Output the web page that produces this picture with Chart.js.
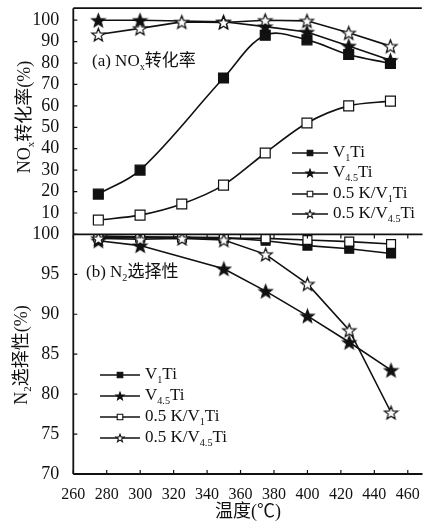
<!DOCTYPE html>
<html>
<head>
<meta charset="utf-8">
<script src="https://cdn.jsdelivr.net/npm/chart.js@4.4.0/dist/chart.umd.min.js"></script>
<style>
  html, body { margin: 0; padding: 0; background: #fff; }
  #wrap { position: relative; width: 430px; height: 523px; overflow: hidden; }
  canvas { position: absolute; left: 0; top: 0; }
</style>
</head>
<body>
<div id="wrap">
  <canvas id="noxChart" width="430" height="523"></canvas>
  <canvas id="selChart" width="430" height="523"></canvas>
</div>
<script>
// temperatures (°C) - the K-doped samples also have a 325 point
const tempsV = [275, 300, 350, 375, 400, 425, 450];
const tempsK = [275, 300, 325, 350, 375, 400, 425, 450];

// (a) NOx conversion (%)
const noxV1Ti = [18.8, 30, 73, 93, 90.8, 84, 79.8];
const noxV45Ti = [100, 100, 99.3, 97, 94.5, 88, 81.3];
const noxKV1Ti = [6.7, 9, 14.2, 23, 38, 52, 60, 62.2];
const noxKV45Ti = [93.3, 96.2, 99.2, 98.9, 100, 99.7, 94.1, 87.9];

// (b) N2 selectivity (%)
const selV1Ti = [99.8, 99.7, 99.6, 99.2, 98.6, 98.2, 97.6];
const selV45Ti = [99.2, 98.6, 95.7, 92.9, 89.8, 86.5, 83.0];
const selKV1Ti = [99.6, 99.6, 99.6, 99.5, 99.5, 99.3, 99.1, 98.8];
const selKV45Ti = [99.5, 99.4, 99.5, 99.3, 97.5, 93.8, 88, 77.7];

const xTicks = [260, 280, 300, 320, 340, 360, 380, 400, 420, 440, 460];
const noxTicks = [10, 20, 30, 40, 50, 60, 70, 80, 90, 100];
const selTicks = [70, 75, 80, 85, 90, 95, 100];

// {..} marks a subscript
const seriesNames = ['V{1}Ti', 'V{4.5}Ti', '0.5 K/V{1}Ti', '0.5 K/V{4.5}Ti'];

const FONT = '"Liberation Serif", "Noto Sans CJK SC", serif';
const INK = '#111';
const AXIS_W = 73.3;   // width given to the y axes so both panels line up
const MID_Y = 234.4;   // border between the two panels
const X_MAX = 468.8;

function starPath(g, cx, cy, R) {
  const r = R * 0.42;
  g.beginPath();
  for (let i = 0; i < 10; i++) {
    const a = -Math.PI / 2 + i * Math.PI / 5;
    const d = i % 2 ? r : R;
    g.lineTo(cx + d * Math.cos(a), cy + d * Math.sin(a));
  }
  g.closePath();
}

function makeStar(R, filled) {
  const c = document.createElement('canvas');
  const s = Math.ceil(R * 2 + 3);
  c.width = s;
  c.height = s;
  const g = c.getContext('2d');
  starPath(g, s / 2, s / 2 + R * 0.1, R);
  g.fillStyle = filled ? INK : '#fff';
  g.fill();
  g.lineWidth = 1.2;
  g.strokeStyle = INK;
  g.stroke();
  return c;
}

const starFilled = makeStar(7, true);
const starOpen = makeStar(7, false);

function richText(ctx, str, x, y, size, measureOnly) {
  const parts = str.split(/(\{[^}]*\})/).filter(Boolean);
  let cx = x;
  for (const p of parts) {
    const sub = p[0] === '{';
    const txt = sub ? p.slice(1, -1) : p;
    ctx.font = (sub ? size * 0.6 : size) + 'px ' + FONT;
    if (!measureOnly) ctx.fillText(txt, cx, sub ? y + size * 0.32 : y);
    cx += ctx.measureText(txt).width;
  }
  return cx - x;
}

function legendMarker(ctx, i, x, y) {
  ctx.lineWidth = 1.1;
  ctx.strokeStyle = INK;
  ctx.fillStyle = (i === 0 || i === 1) ? INK : '#fff';
  if (i === 0 || i === 2) {
    ctx.beginPath();
    ctx.rect(x - 2.8, y - 2.8, 5.6, 5.6);
  } else {
    starPath(ctx, x, y + 0.4, 4.2);
  }
  ctx.fill();
  ctx.stroke();
}

// frame, inward ticks, panel label, legend and rotated y title
const panelDecor = {
  id: 'panelDecor',
  afterDraw(chart, args, o) {
    const { ctx, chartArea: a, scales: { x, y } } = chart;
    ctx.save();
    ctx.strokeStyle = INK;
    ctx.lineWidth = 1.8;
    ctx.beginPath();
    ctx.moveTo(a.left, a.bottom);
    ctx.lineTo(a.left, a.top);
    ctx.moveTo(a.left, a.top);
    ctx.lineTo(a.right, a.top);
    if (o.xAxis) {
      ctx.moveTo(a.left, a.bottom);
      ctx.lineTo(a.right, a.bottom);
    }
    ctx.stroke();

    ctx.lineWidth = 1.2;
    ctx.beginPath();
    y.ticks.forEach(t => {
      const py = y.getPixelForValue(t.value);
      ctx.moveTo(a.left, py);
      ctx.lineTo(a.left + 4, py);
    });
    if (o.xAxis) {
      x.ticks.forEach(t => {
        const px = x.getPixelForValue(t.value);
        ctx.moveTo(px, a.bottom);
        ctx.lineTo(px, a.bottom - 4);
        ctx.moveTo(px, a.top);
        ctx.lineTo(px, a.top + 4);
      });
    }
    ctx.stroke();

    ctx.fillStyle = INK;
    ctx.textBaseline = 'middle';
    ctx.textAlign = 'left';
    richText(ctx, o.label, o.labelX, o.labelY, 17);

    o.rows.forEach((ry, i) => {
      ctx.lineWidth = 1.6;
      ctx.strokeStyle = INK;
      ctx.beginPath();
      ctx.moveTo(o.legX0, ry);
      ctx.lineTo(o.legX1, ry);
      ctx.stroke();
      legendMarker(ctx, i, (o.legX0 + o.legX1) / 2, ry);
      ctx.fillStyle = INK;
      richText(ctx, seriesNames[i], o.legX1 + 5, ry, 17);
    });

    ctx.translate(o.titleX, o.titleY);
    ctx.rotate(-Math.PI / 2);
    const w = richText(ctx, o.title, 0, 0, 18, true);
    richText(ctx, o.title, -w / 2, 0, 18);
    ctx.restore();
  }
};

function series(label, xs, ys, marker, extra) {
  return Object.assign({
    label: label,
    data: xs.map((t, i) => ({ x: t, y: ys[i] })),
    borderColor: INK,
    borderWidth: 1.6,
    pointBorderColor: INK,
    pointBorderWidth: 1.2,
    tension: 0
  }, marker, extra);
}

function yAxis(min, max, tickValues) {
  return {
    min: min,
    max: max,
    afterBuildTicks: s => { s.ticks = tickValues.map(v => ({ value: v })); },
    afterFit: s => {
      s.width = AXIS_W;
      s.paddingTop = 0; s.paddingBottom = 0; s.paddingLeft = 0; s.paddingRight = 0;
    },
    grid: { display: false },
    border: { display: false },
    ticks: { color: INK, padding: 6, font: { family: FONT, size: 18 } }
  };
}

Chart.defaults.animation = false;
Chart.defaults.events = [];

new Chart(document.getElementById('noxChart'), {
  type: 'line',
  data: {
    datasets: [
      series(seriesNames[0], tempsV, noxV1Ti,
        { pointStyle: 'rect', pointRadius: 7, pointBackgroundColor: INK }, { tension: 0.35, order: 3 }),
      series(seriesNames[1], tempsV, noxV45Ti, { pointStyle: starFilled }, { order: 2 }),
      series(seriesNames[2], tempsK, noxKV1Ti,
        { pointStyle: 'rect', pointRadius: 7, pointBackgroundColor: '#fff' }, { tension: 0.3, order: 1 }),
      series(seriesNames[3], tempsK, noxKV45Ti, { pointStyle: starOpen }, { order: 0 })
    ]
  },
  options: {
    responsive: false,
    devicePixelRatio: 1,
    layout: { padding: { top: 8, bottom: 523 - MID_Y, left: 0, right: 0 } },
    plugins: {
      legend: { display: false },
      tooltip: { enabled: false },
      panelDecor: {
        xAxis: false,
        label: '(a) NO{x}转化率', labelX: 92, labelY: 62,
        rows: [153, 173, 194, 214], legX0: 292, legX1: 328,
        title: 'NO{x}转化率(%)', titleX: 25, titleY: 117
      }
    },
    scales: {
      x: { type: 'linear', display: false, min: 260, max: X_MAX },
      y: yAxis(0, 105.6, noxTicks)
    }
  },
  plugins: [panelDecor]
});

new Chart(document.getElementById('selChart'), {
  type: 'line',
  data: {
    datasets: [
      series(seriesNames[0], tempsV, selV1Ti,
        { pointStyle: 'rect', pointRadius: 6.3, pointBackgroundColor: INK }, { order: 3 }),
      series(seriesNames[1], tempsV, selV45Ti, { pointStyle: starFilled }, { order: 2 }),
      series(seriesNames[2], tempsK, selKV1Ti,
        { pointStyle: 'rect', pointRadius: 6.3, pointBackgroundColor: '#fff' }, { order: 1 }),
      series(seriesNames[3], tempsK, selKV45Ti, { pointStyle: starOpen }, { order: 0 })
    ]
  },
  options: {
    responsive: false,
    devicePixelRatio: 1,
    layout: { padding: { top: MID_Y, bottom: 0, left: 0, right: 0 } },
    plugins: {
      legend: { display: false },
      tooltip: { enabled: false },
      panelDecor: {
        xAxis: true,
        label: '(b) N{2}选择性', labelX: 86, labelY: 273,
        rows: [375, 396, 417, 438], legX0: 100, legX1: 140,
        title: 'N{2}选择性(%)', titleX: 22, titleY: 355
      }
    },
    scales: {
      x: {
        type: 'linear',
        min: 260,
        max: X_MAX,
        afterBuildTicks: s => { s.ticks = xTicks.map(v => ({ value: v })); },
        afterFit: s => {
          s.height = 523 - 474;
          s.paddingLeft = 0; s.paddingRight = 0; s.paddingTop = 0; s.paddingBottom = 0;
        },
        grid: { display: false },
        border: { display: false },
        ticks: { color: INK, padding: 3, maxRotation: 0, autoSkip: false, font: { family: FONT, size: 16 } },
        title: {
          display: true,
          text: '温度(℃)',
          color: INK,
          padding: { top: 0, bottom: 0 },
          font: { family: FONT, size: 18 }
        }
      },
      y: yAxis(70, 100, selTicks)
    }
  },
  plugins: [panelDecor]
});
</script>
</body>
</html>
